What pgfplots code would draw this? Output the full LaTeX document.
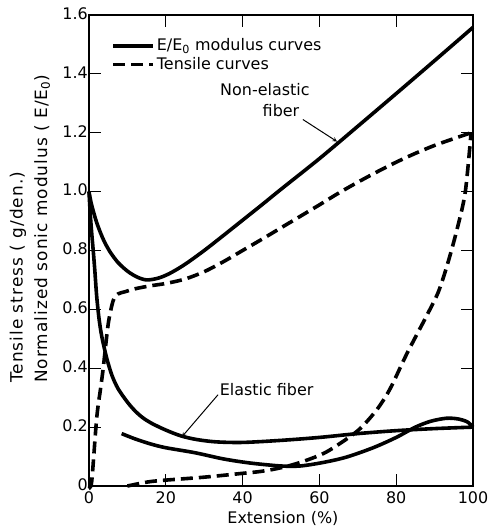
\documentclass[border=0pt]{standalone}
\usepackage{fontspec}
\setmainfont{DejaVu Sans}
\usepackage{pgfplots}
\pgfplotsset{compat=1.18}
\begin{document}
\fontsize{16}{19}\selectfont
\begin{tikzpicture}
\begin{axis}[
  name=ax,
  width=384bp, height=471bp, scale only axis,
  xmin=0, xmax=100, ymin=0, ymax=1.6,
  xtick={0,20,40,60,80,100},
  ytick={0,0.2,0.4,0.6,0.8,1.0,1.2,1.4,1.6},
  yticklabels={0,0.2,0.4,0.6,0.8,1.0,1.2,1.4,1.6},
  xticklabels={0,20,40,60,80,100},
  xtick pos=both, ytick pos=both,
  tick align=inside,
  axis line style={line width=1.1bp},
  major tick length=12bp,
  tick style={line width=1.2bp, draw=black},
  tick label style={font=\fontsize{16}{19}\selectfont},
  yticklabel style={inner sep=1bp, yshift=1.5bp},
  xticklabel style={inner sep=2bp, yshift=-3bp},
  /pgf/number format/assume math mode=true,
  clip=false,
  legend style={draw=none, fill=none, at={(axis cs:5.5,1.53)}, anchor=north west,
    font=\fontsize{16}{19}\selectfont, row sep=0bp, inner sep=1bp},
  legend cell align=left,
  legend image code/.code={\draw[#1] (0bp,0bp) -- (40bp,0bp);},
]
% Non-elastic fiber, modulus
\addplot[black, line width=3.6bp, smooth, tension=0.5] coordinates {
(0,1.00) (0.5,0.965) (1.2,0.93) (2,0.895) (3,0.86) (4,0.83) (5.5,0.795)
(7.5,0.76) (10,0.73) (12.5,0.71) (15,0.70) (18,0.706) (21,0.722) (25,0.753) (30,0.80)
(35,0.851) (40,0.903) (45,0.955) (50,1.008) (60,1.112) (70,1.222)
(80,1.333) (90,1.445) (100,1.558)};
\addlegendentry{E/E\textsubscript{0} modulus curves}
% Non-elastic fiber, tensile
\addplot[black, line width=3.6bp, dash pattern=on 12bp off 6bp, smooth, tension=0.5] coordinates {
(0,0) (0.7,0.015) (2,0.23) (3,0.33) (3.7,0.40) (5,0.55) (6.3,0.63) (7.5,0.652)
(9.4,0.66) (12,0.67) (16,0.68) (20,0.688) (25,0.703) (30,0.728) (35,0.762)
(40,0.80) (45,0.838) (50,0.877) (55,0.916) (60,0.955) (65,0.995) (70,1.032)
(75,1.067) (80,1.10) (85,1.13) (90,1.157) (95,1.18) (99.5,1.20)};
\addlegendentry{Tensile curves}
% Elastic fiber, tensile
\addplot[black, line width=3.6bp, dash pattern=on 12bp off 6bp, smooth, tension=0.5, forget plot] coordinates {
(10,0) (13,0.008) (16,0.015) (20,0.02) (30,0.03) (40,0.043) (45,0.05) (50,0.062)
(55,0.08) (61,0.11) (66,0.15) (70.6,0.195) (75,0.26) (78.4,0.33) (82.8,0.45)
(88,0.58) (91,0.66) (93.5,0.76) (96,0.88) (98,1.0) (99.5,1.20)};
% Elastic fiber, modulus (upper)
\addplot[black, line width=3.6bp, smooth, tension=0.5, forget plot] coordinates {
(0,1.00) (0.3,0.93) (0.7,0.86) (1.1,0.80) (1.5,0.735) (2.0,0.645) (2.6,0.57)
(3.3,0.51) (4.6,0.435) (6,0.375) (7.6,0.33) (10,0.285) (12,0.255) (14,0.232)
(16.3,0.213) (20,0.19) (24,0.17) (28,0.158) (33,0.15) (40,0.148) (50,0.155)
(60,0.165) (70,0.178) (80,0.188) (90,0.195) (100,0.20)};
% Elastic fiber, modulus (lower)
\addplot[black, line width=3.6bp, smooth, tension=0.5, forget plot] coordinates {
(8.5,0.178) (12,0.16) (16,0.143) (20,0.13) (27.6,0.113) (35,0.092) (42,0.078)
(50,0.068) (55,0.068) (61,0.08) (67,0.098) (74,0.13) (80,0.165) (85,0.20)
(89,0.22) (93,0.23) (96,0.228) (98.5,0.218) (100,0.20)};
% annotations
\node[inner sep=0pt] at (axis cs:45.8,1.347) {Non-elastic};
\node[inner sep=0pt] at (axis cs:50,1.276) {fiber};
\draw[-stealth, line width=1bp] (axis cs:55.7,1.245) -- (axis cs:64.6,1.17);
\node[anchor=west, inner sep=0pt] at (axis cs:34,0.327) {Elastic fiber};
\draw[-stealth, line width=1bp] (axis cs:33.6,0.31) -- (axis cs:24.2,0.167);
% axis labels
\node[rotate=90, anchor=west, inner sep=0pt, font=\fontsize{17}{20}\selectfont\addfontfeatures{LetterSpace=6}] at (axis cs:-18.5,0.35) {Tensile stress ( g/den.)};
\node[rotate=90, anchor=west, inner sep=0pt, font=\fontsize{17}{20}\selectfont\addfontfeatures{LetterSpace=6}] at (axis cs:-12.2,0.35) {Normalized sonic modulus ( E/E\textsubscript{0})};
\node[inner sep=0pt] at (axis cs:50.5,-0.11) {Extension (\%)};
\end{axis}
\pgfresetboundingbox
\path ([shift={(-89bp,-42bp)}]ax.south west) rectangle ([shift={(15bp,15bp)}]ax.north east);
\end{tikzpicture}
\end{document}
